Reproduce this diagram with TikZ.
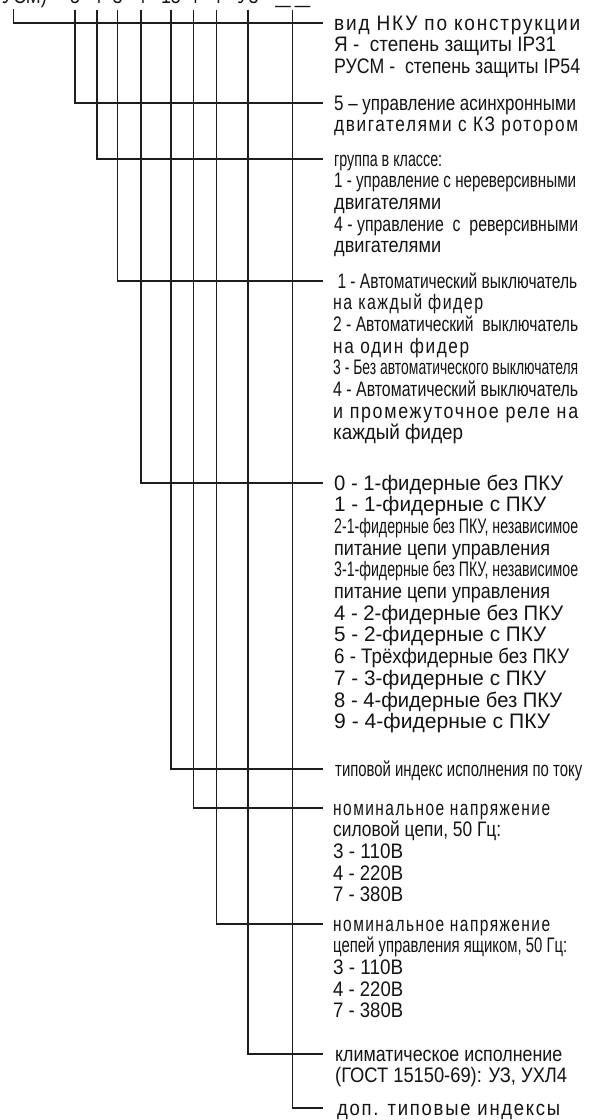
\documentclass[tikz,border=0pt]{standalone}
\usepackage{fontspec}
\usepackage{graphicx}
\setmainfont{Liberation Sans}
\newfontfamily\nf[FakeStretch=0.85]{Liberation Sans}
\newfontfamily\spf[FakeStretch=0.85,LetterSpace=8]{Liberation Sans}
\newsavebox\fitbox
\newcommand\fitline[2]{\sbox\fitbox{#2}\pgfmathsetmacro\fitr{#1/\the\wd\fitbox}\scalebox{\fitr}[1]{\usebox\fitbox}}
\newcommand\li[2]{\hbox{\fitline{#1}{#2}}}
\newcommand\blk[1]{\vtop{\fontsize{21}{21.7}\selectfont\nf\lineskiplimit=-50pt\lineskip=0pt #1}}
\definecolor{lc}{HTML}{1E1E1E}
\definecolor{tc}{HTML}{141414}
\tikzset{
  conn/.style={line width=1.3pt, draw=lc},
  lab/.style={anchor=base west, inner sep=0pt, text=tc},
  code/.style={anchor=base, inner sep=0pt, text=tc, font=\fontsize{21}{24}\selectfont\nf}
}
\begin{document}
\begin{tikzpicture}[x=1pt,y=-1pt]
\fill[white] (0,0) rectangle (595,1120);
\useasboundingbox (0,0) rectangle (595,1120);

% code string (cut off at top)
\node[code, anchor=base east] (d0) at (47,3) {Я(РУСМ)};
\node[code] (d1) at (75,3) {5};
\node[code] (d2) at (97,3) {4};
\node[code] (d3) at (117.5,3) {3};
\node[code] (d4) at (141,3) {4};
\node[code] (d5) at (171,3) {15};
\node[code] (d6) at (193.5,3) {4};
\node[code] (d7) at (216.5,3) {4};
\node[code] (d8) at (248,3) {У3};
\node[code] (d9) at (283,3) {\fitline{15}{\_}};
\node[code] (d10) at (302.5,3) {\fitline{15}{\_}};

% tops and ends of connectors
\coordinate (t1) at (13.5,9);   \coordinate (e1) at (323,23);
\coordinate (t2) at (75,9.5);   \coordinate (e2) at (323,103);
\coordinate (t3) at (97,9.5);   \coordinate (e3) at (323,159);
\coordinate (t4) at (117.5,9.5);\coordinate (e4) at (323,281);
\coordinate (t5) at (141,9.5);  \coordinate (e5) at (323,483);
\coordinate (t6) at (171,9.5);  \coordinate (e6) at (323,769);
\coordinate (t7) at (193.5,9.5);\coordinate (e7) at (323,808);
\coordinate (t8) at (216.5,9.5);\coordinate (e8) at (323,924);
\coordinate (t9) at (248,9.5);  \coordinate (e9) at (323,1054);
\coordinate (t10) at (292.5,9.5);\coordinate (e10) at (323,1108);

\foreach \i in {1,...,10}{\draw[conn] (t\i) |- (e\i);}

% labels
\node[lab] (l1) at (334,30) {\blk{%
\li{246}{\spf вид НКУ по конструкции}
\li{222}{Я -\ \ степень защиты IP31}
\li{246}{РУСМ -\ \ степень защиты IP54}}};

\node[lab] (l2) at (334,110) {\blk{%
\li{242}{5 – управление асинхронными}
\li{244}{\spf двигателями с КЗ ротором}}};

\node[lab] (l3) at (334,166) {\blk{%
\li{108}{группа в классе:}
\li{242}{1 - управление с нереверсивными}
\li{107}{двигателями}
\li{244}{4 - управление\ \ с\ \ реверсивными}
\li{107}{двигателями}}};

\node[lab] (l4) at (333,288) {\blk{%
\li{244}{\ 1 - Автоматический выключатель}
\li{150}{\spf на каждый фидер}
\li{245}{2 - Автоматический\ \ выключатель}
\li{136}{\spf на один фидер}
\li{245}{3 - Без автоматического выключателя}
\li{245}{4 - Автоматический выключатель}
\li{245}{\spf и промежуточное реле на}
\li{130}{каждый фидер}}};

\node[lab] (l5) at (334,490) {\blk{%
\li{229}{0 - 1-фидерные без ПКУ}
\li{212}{1 - 1-фидерные с ПКУ}
\li{244}{2-1-фидерные без ПКУ, независимое}
\li{216}{питание цепи управления}
\li{244}{3-1-фидерные без ПКУ, независимое}
\li{216}{питание цепи управления}
\li{229}{4 - 2-фидерные без ПКУ}
\li{212}{5 - 2-фидерные с ПКУ}
\li{235}{6 - Трёхфидерные без ПКУ}
\li{212}{7 - 3-фидерные с ПКУ}
\li{228}{8 - 4-фидерные без ПКУ}
\li{216}{9 - 4-фидерные с ПКУ}}};

\node[lab] (l6) at (335,776) {\blk{%
\li{247}{типовой индекс исполнения по току}}};

\node[lab] (l7) at (333,815) {\blk{%
\li{217}{\spf номинальное напряжение}
\li{168}{силовой цепи, 50 Гц:}
\li{70}{3 - 110В}
\li{70}{4 - 220В}
\li{70}{7 - 380В}}};

\node[lab] (l8) at (333,931) {\blk{%
\li{217}{\spf номинальное напряжение}
\li{234}{цепей управления ящиком, 50 Гц:}
\li{70}{3 - 110В}
\li{70}{4 - 220В}
\li{70}{7 - 380В}}};

\node[lab] (l9) at (335,1061) {\blk{%
\li{227}{климатическое исполнение}
\li{232}{(ГОСТ 15150-69): УЗ, УХЛ4}}};

\node[lab] (l10) at (337,1115) {\blk{%
\li{223}{\spf доп. типовые индексы}}};
\end{tikzpicture}
\end{document}
